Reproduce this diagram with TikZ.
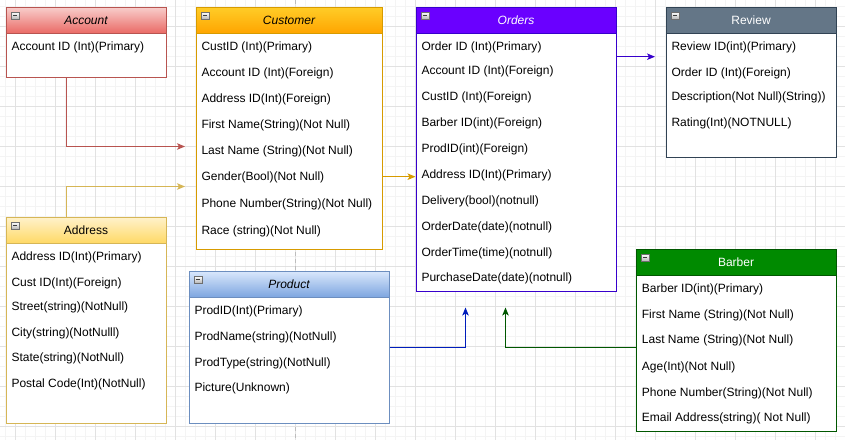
\documentclass[tikz,border=0pt]{standalone}
\usepackage{fontspec}
\setmainfont{Liberation Sans}
\usetikzlibrary{arrows.meta}
\definecolor{gminor}{HTML}{F4F4F4}
\definecolor{gmajor}{HTML}{E2E2E2}
\definecolor{pageln}{HTML}{BDBDBD}
\definecolor{accS}{HTML}{B85450}\definecolor{accT}{HTML}{F8CECC}\definecolor{accB}{HTML}{EA6B66}
\definecolor{cusS}{HTML}{D79B00}\definecolor{cusT}{HTML}{FFCD28}\definecolor{cusB}{HTML}{FFA500}
\definecolor{ordS}{HTML}{3700CC}\definecolor{ordF}{HTML}{6A00FF}
\definecolor{revS}{HTML}{314354}\definecolor{revF}{HTML}{647687}
\definecolor{adrS}{HTML}{D6B656}\definecolor{adrT}{HTML}{FFF2CC}\definecolor{adrB}{HTML}{FFD966}
\definecolor{proS}{HTML}{6C8EBF}\definecolor{proT}{HTML}{DAE8FC}\definecolor{proB}{HTML}{7EA6E0}
\definecolor{barS}{HTML}{005700}\definecolor{barF}{HTML}{008A00}
\definecolor{proA}{HTML}{001DBC}
\definecolor{icoS}{HTML}{6E6E6E}\definecolor{icoB}{HTML}{B8B8B8}\definecolor{icoM}{HTML}{3A3A3A}
\newcommand\ericon[1]{%
  \path ([xshift=5.5pt,yshift=-5.5pt]#1.north west) coordinate (#1i);
  \draw[draw=icoS, line width=0.6pt, top color=white, bottom color=icoB] (#1i) rectangle ++(8pt,-7pt);
  \draw[line width=1pt, icoM] ([xshift=2pt,yshift=-3.5pt]#1i) -- ++(4pt,0pt);}
\newcommand\errows[3]{%
  \foreach \yy/\rtxt [count=\k] in {#3} {\node[rowtxt] (#2-\k) at (#1,\yy+4.3) {\rtxt};}}
\begin{document}
\begin{tikzpicture}[x=1pt,y=-1pt,
  tbl/.style={draw, fill=white, line width=1pt, anchor=north west, inner sep=0pt},
  hdr/.style={draw, line width=1pt, anchor=north west, inner sep=0pt, minimum height=26pt,
    font=\fontsize{12}{14}\selectfont},
  rowtxt/.style={anchor=base west, inner sep=0pt, font=\fontsize{12}{14}\selectfont, text=black},
  conn/.style={line width=1pt, -{Stealth[length=8pt,width=6.5pt,inset=2pt]}},
  minorl/.style={gminor, line width=0.8pt},
  majorl/.style={gmajor, line width=0.8pt}]
\fill[white] (0,0) rectangle (845,440);
\useasboundingbox (0,0) rectangle (845,440);
% grid
\foreach \x in {5.5,15.5,...,845} \draw[minorl] (\x,0) -- (\x,440);
\foreach \y in {6.5,16.5,...,440} \draw[minorl] (0,\y) -- (845,\y);
\foreach \x in {15.5,55.5,...,845} \draw[majorl] (\x,0) -- (\x,440);
\foreach \y in {26.5,66.5,...,440} \draw[majorl] (0,\y) -- (845,\y);
\draw[pageln, line width=0.8pt, dash pattern=on 4pt off 3pt] (295.5,0) -- (295.5,440);

% Account
\node[tbl, draw=accS, minimum width=160pt, minimum height=70pt] (account) at (5.5,6.5) {};
\node[hdr, draw=accS, top color=accT, bottom color=accB, minimum width=160pt] (accounth) at (5.5,6.5) {\itshape Account};
\ericon{accounth}
\errows{11.3}{acc}{46/Account ID (Int)(Primary)}

% Customer
\node[tbl, draw=cusS, minimum width=186pt, minimum height=242pt] (customer) at (195.5,6.5) {};
\node[hdr, draw=cusS, top color=cusT, bottom color=cusB, minimum width=186pt] (customerh) at (195.5,6.5) {\itshape Customer};
\ericon{customerh}
\errows{201.3}{cus}{46/CustID (Int)(Primary), 71.7/Account ID (Int)(Foreign), 97.7/Address ID(Int)(Foreign), 124/First Name(String)(Not Null), 149.7/Last Name (String)(Not Null), 175.7/Gender(Bool)(Not Null), 203/Phone Number(String)(Not Null), 229.7/Race (string)(Not Null)}

% Orders
\node[tbl, draw=ordS, minimum width=200pt, minimum height=284pt] (orders) at (415.5,6.5) {};
\node[hdr, draw=ordS, fill=ordF, text=white, minimum width=200pt] (ordersh) at (415.5,6.5) {\itshape Orders};
\ericon{ordersh}
\errows{421.3}{ord}{45.7/Order ID (Int)(Primary), 70/Account ID (Int)(Foreign), 96/CustID (Int)(Foreign), 122/Barber ID(int)(Foreign), 147.7/ProdID(int)(Foreign), 173.7/Address ID(Int)(Primary), 200/Delivery(bool)(notnull), 226.3/OrderDate(date)(notnull), 251.7/OrderTime(time)(notnull), 277.3/PurchaseDate(date)(notnull)}

% Review
\node[tbl, draw=revS, minimum width=170pt, minimum height=150pt] (review) at (665.5,6.5) {};
\node[hdr, draw=revS, fill=revF, text=white, minimum width=170pt] (reviewh) at (665.5,6.5) {Review};
\ericon{reviewh}
\errows{671.3}{rev}{45.7/Review ID(int)(Primary), 71.7/Order ID (Int)(Foreign), 96/Description(Not Null)(String)), 122/Rating(Int)(NOTNULL)}

% Address
\node[tbl, draw=adrS, minimum width=160pt, minimum height=206pt] (address) at (5.5,216.5) {};
\node[hdr, draw=adrS, top color=adrT, bottom color=adrB, minimum width=160pt] (addressh) at (5.5,216.5) {Address};
\ericon{addressh}
\errows{11.3}{adr}{255.7/Address ID(Int)(Primary), 281.7/Cust ID(Int)(Foreign), 306/Street(string)(NotNull), 332/City(string)(NotNulll), 357.3/State(string)(NotNull), 383.3/Postal Code(Int)(NotNull)}

% Product
\node[tbl, draw=proS, minimum width=200pt, minimum height=152pt] (product) at (188.5,270.5) {};
\node[hdr, draw=proS, top color=proT, bottom color=proB, minimum width=200pt] (producth) at (188.5,270.5) {\itshape Product};
\ericon{producth}
\errows{194.3}{pro}{310/ProdID(Int)(Primary), 336.3/ProdName(string)(NotNull), 361.7/ProdType(string)(NotNull), 387.3/Picture(Unknown)}

% Barber
\node[tbl, draw=barS, minimum width=200pt, minimum height=182pt] (barber) at (635.5,248.5) {};
\node[hdr, draw=barS, fill=barF, text=white, minimum width=200pt] (barberh) at (635.5,248.5) {Barber};
\ericon{barberh}
\errows{641.7}{bar}{288/Barber ID(int)(Primary), 313.7/First Name (String)(Not Null), 339.3/Last Name (String)(Not Null), 365.7/Age(Int)(Not Null), 391.7/Phone Number(String)(Not Null), 417.3/Email Address(string)( Not Null)}

% connectors
\coordinate (e1) at (185,146.5);
\draw[conn, accS] ([xshift=-20pt]account.south) |- (e1);
\coordinate (e2) at (185,186.5);
\draw[conn, adrS] ([xshift=-20pt]address.north) |- (e2);
\coordinate (s3) at ([yshift=-48.7pt]customer.east);
\draw[conn, cusS] (s3) -- (s3 -| orders.west);
\coordinate (e4) at (655,56.7);
\draw[conn, ordS] (e4 -| orders.east) -- (e4);
\coordinate (e5) at (465.5,307.5);
\draw[conn, proA] (product.east) -| (e5);
\coordinate (e6) at (505.5,307.5);
\coordinate (s6) at ([yshift=-7.1pt]barber.west);
\draw[conn, barS] (s6) -| (e6);
\end{tikzpicture}
\end{document}
